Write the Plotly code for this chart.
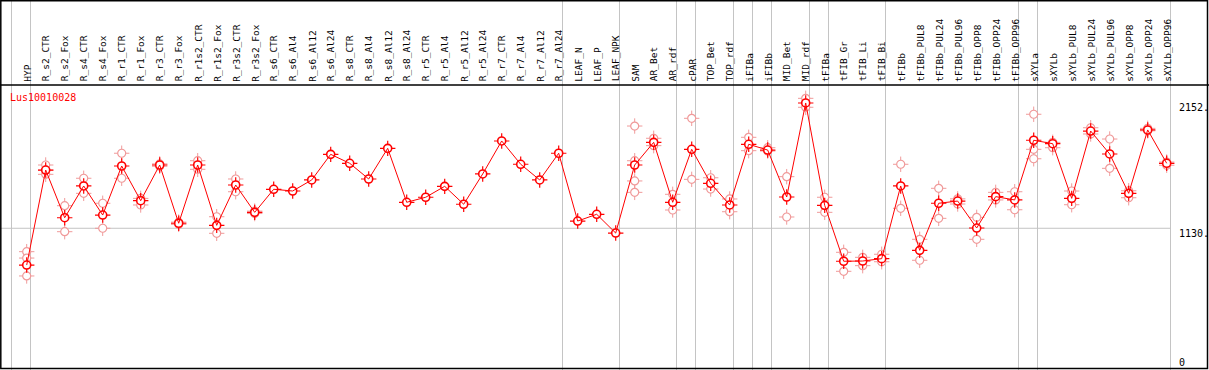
import plotly.graph_objects as go

gene_id = "Lus10010028"

categories = [
    "HYP", "R_s2_CTR", "R_s2_Fox", "R_s4_CTR", "R_s4_Fox", "R_r1_CTR", "R_r1_Fox",
    "R_r3_CTR", "R_r3_Fox", "R_r1s2_CTR", "R_r1s2_Fox", "R_r3s2_CTR", "R_r3s2_Fox",
    "R_s6_CTR", "R_s6_Al4", "R_s6_Al12", "R_s6_Al24", "R_s8_CTR", "R_s8_Al4",
    "R_s8_Al12", "R_s8_Al24", "R_r5_CTR", "R_r5_Al4", "R_r5_Al12", "R_r5_Al24",
    "R_r7_CTR", "R_r7_Al4", "R_r7_Al12", "R_r7_Al24", "LEAF_N", "LEAF_P", "LEAF_NPK",
    "SAM", "AR_Bet", "AR_rdf", "cPAR", "TOP_Bet", "TOP_rdf", "iFIBa", "iFIBb",
    "MID_Bet", "MID_rdf", "tFIBa", "tFIB_Gr", "tFIB_Li", "tFIB_Bi", "tFIBb",
    "tFIBb_PUL8", "tFIBb_PUL24", "tFIBb_PUL96", "tFIBb_OPP8", "tFIBb_OPP24",
    "tFIBb_OPP96", "sXYLa", "sXYLb", "sXYLb_PUL8", "sXYLb_PUL24", "sXYLb_PUL96",
    "sXYLb_OPP8", "sXYLb_OPP24", "sXYLb_OPP96",
]

mean_values = [
    830, 1605, 1216, 1475, 1238, 1638, 1355, 1646, 1171, 1646, 1154, 1483, 1260,
    1448, 1434, 1524, 1733, 1660, 1532, 1782, 1342, 1383, 1472, 1326, 1573,
    1842, 1652, 1524, 1742, 1189, 1244, 1091,
    1646, 1831, 1342, 1774, 1497, 1320, 1815, 1768, 1385, 2152, 1317,
    861, 863, 882, 1475, 950, 1334, 1352, 1132, 1388, 1361,
    1848, 1820, 1374, 1923, 1736, 1415, 1932, 1660,
]

replicate_values = [
    [939, 887, 741], [1646, 1570, 1605], [1314, 1102], [1538, 1415], [1334, 1130],
    [1742, 1538], [1374, 1320], [1655, 1636], [1180, 1162], [1681, 1611],
    [1224, 1089], [1532, 1428], [1270, 1250],
    [], [], [], [], [], [], [], [], [], [], [], [], [], [], [], [], [], [], [],
    [1964, 1681, 1516, 1423], [1864, 1804], [1407, 1279], [2027, 1529],
    [1542, 1450], [1369, 1265], [1872, 1763], [1787, 1760], [1551, 1222],
    [2190, 2117], [1383, 1260], [934, 779], [893, 825], [918, 857],
    [1652, 1293], [1040, 869], [1456, 1211], [1328, 1370], [1219, 1040],
    [1423, 1361], [1428, 1281], [2060, 1774, 1697], [1831, 1787], [1434, 1322],
    [1950, 1899], [1858, 1619], [1436, 1379], [1945, 1925], [1644, 1670],
]

# group separators drawn after these category indices
group_breaks = [-1, 0, 28, 31, 34, 35, 37, 38, 39, 41, 42, 45, 52, 53, 60]

axis_values = [2152, 1130, 0]
axis_labels = ["2152.", "1130.", "0"]
grid_value = 1130

# ---- layout constants (pixels) ----
W, H = 1209, 370
PX0, DX = 26.7, 19.0          # first column centre and pitch
ZERO_PX, UPP = 366.8, 8.157   # pixel row of value 0, units per pixel
HEADER_PX = 85

RED = "#ff0000"
PALE = "#f09a9a"
GRAY = "#c4c4c4"
FONT = "DejaVu Sans Mono"

xs = list(range(len(categories)))
rep_x, rep_y = [], []
for i, reps in enumerate(replicate_values):
    for v in reps:
        rep_x.append(i)
        rep_y.append(v)

x_range = [(0 - PX0) / DX, (W - PX0) / DX]
y_range = [-(H - ZERO_PX) * UPP, ZERO_PX * UPP]


def py(p):
    return (H - p) / H


def px(p):
    return p / W


fig = go.Figure()

fig.add_trace(go.Scatter(x=rep_x, y=rep_y, mode="markers", hoverinfo="skip",
                         marker=dict(symbol="cross-thin-open", size=11, color=PALE,
                                     line=dict(color=PALE, width=1))))
fig.add_trace(go.Scatter(x=rep_x, y=rep_y, mode="markers", hoverinfo="skip",
                         marker=dict(symbol="circle", size=8, color="white",
                                     line=dict(color=PALE, width=1.2))))
fig.add_trace(go.Scatter(x=xs, y=mean_values, mode="markers", hoverinfo="skip",
                         marker=dict(symbol="cross-thin-open", size=11, color=RED,
                                     line=dict(color=RED, width=1.2))))
fig.add_trace(go.Scatter(x=xs, y=mean_values, mode="markers", hoverinfo="skip",
                         marker=dict(symbol="circle", size=8, color="white",
                                     line=dict(color=RED, width=1.6))))
fig.add_trace(go.Scatter(x=xs, y=mean_values, mode="lines", hoverinfo="skip",
                         line=dict(color=RED, width=1)))

shapes = []
# group separators, full height
for b in group_breaks:
    shapes.append(dict(type="line", xref="x", yref="paper", x0=b + 0.2, x1=b + 0.2,
                       y0=0, y1=1, line=dict(color=GRAY, width=1), layer="below"))
# horizontal reference line
shapes.append(dict(type="line", xref="x", yref="y", x0=x_range[0],
                   x1=group_breaks[-1] + 0.2, y0=grid_value, y1=grid_value,
                   line=dict(color=GRAY, width=1), layer="below"))
# header separator
shapes.append(dict(type="line", xref="paper", yref="paper", x0=0, x1=1,
                   y0=py(HEADER_PX), y1=py(HEADER_PX), line=dict(color="black", width=1.5)))
# outer border
shapes.append(dict(type="rect", xref="paper", yref="paper",
                   x0=px(0.8), x1=px(W - 1.5), y0=py(H - 1.5), y1=py(0.8),
                   line=dict(color="black", width=1.5)))

annotations = []
for i, name in enumerate(categories):
    annotations.append(dict(x=i, xref="x", y=py(HEADER_PX - 1.5), yref="paper",
                            text=name, showarrow=False, textangle=-90,
                            xanchor="center", yanchor="bottom",
                            font=dict(family=FONT, size=9.5, color="black")))
annotations.append(dict(x=px(8), xref="paper", y=py(97), yref="paper", text=gene_id,
                        showarrow=False, xanchor="left", yanchor="middle",
                        font=dict(family=FONT, size=10, color=RED)))
for v, lab in zip(axis_values, axis_labels):
    centre = min(ZERO_PX - v / UPP + 5, H - 8)
    annotations.append(dict(x=px(1177), xref="paper", y=py(centre), yref="paper",
                            text=lab, showarrow=False, xanchor="left", yanchor="middle",
                            font=dict(family=FONT, size=10, color="black")))

fig.update_layout(
    width=W, height=H, margin=dict(l=0, r=0, t=0, b=0),
    paper_bgcolor="white", plot_bgcolor="white", showlegend=False,
    xaxis=dict(range=x_range, visible=False, fixedrange=True),
    yaxis=dict(range=y_range, visible=False, fixedrange=True),
    shapes=shapes, annotations=annotations,
)

fig.write_html("out.html", config={"displayModeBar": False},
               post_script="document.body.style.margin='0';document.body.style.overflow='hidden';")
